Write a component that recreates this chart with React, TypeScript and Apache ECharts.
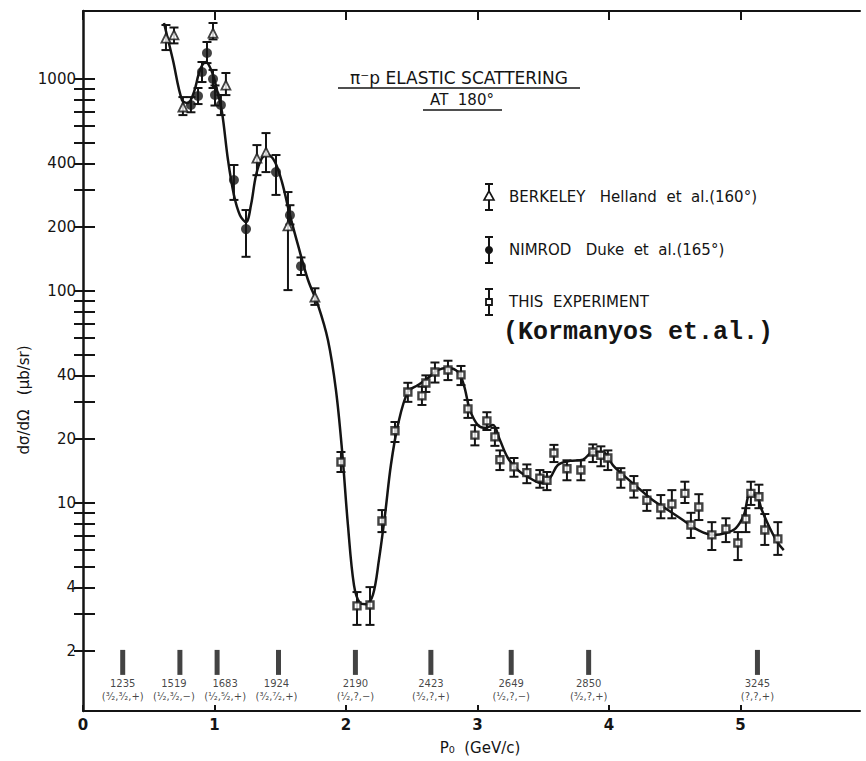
import { useEffect, useRef } from 'react';
import * as echarts from 'echarts';

// ---------- axis ticks ----------
const xTickValues = [0, 1, 2, 3, 4, 5];
const yLabelValues = [2, 4, 10, 20, 40, 100, 200, 400, 1000];
const yTickValues = [
  2, 3, 4, 5, 6, 7, 8, 9,
  10, 20, 30, 40, 50, 60, 70, 80, 90,
  100, 200, 300, 400, 500, 600, 700, 800, 900, 1000,
];

// ---------- fitted curve ----------
const curveP = [
  0.616, 0.684, 0.753, 0.798, 0.844, 0.89, 0.935, 0.981, 1.019, 1.057, 1.103, 1.148,
  1.194, 1.24, 1.278, 1.316, 1.361, 1.407, 1.46, 1.513, 1.574, 1.635, 1.711, 1.787,
  1.863, 1.924, 1.97, 2.015, 2.061, 2.106, 2.152, 2.205, 2.251, 2.297, 2.342, 2.395,
  2.471, 2.548, 2.624, 2.7, 2.776, 2.852, 2.897, 2.943, 3.004, 3.065, 3.118, 3.171,
  3.232, 3.308, 3.399, 3.49, 3.551, 3.612, 3.703, 3.802, 3.878, 3.954, 4.03, 4.106,
  4.221, 4.335, 4.449, 4.563, 4.677, 4.791, 4.89, 4.966, 5.027, 5.072, 5.118, 5.163,
  5.224, 5.285, 5.33,
];
const curveVal = [
  1837, 1230, 796, 771, 868, 1103, 1203, 1080, 888, 699, 415, 284,
  228, 211, 255, 352, 424, 438, 406, 327, 228, 165, 113, 86,
  58.7, 34.1, 17.8, 7.88, 4.1, 3.38, 3.33, 3.68, 5.39, 8.78, 15.1, 23.3,
  33.4, 36.0, 38.9, 42.4, 43.3, 41.5, 36.0, 27.5, 23.3, 22.6, 23.3, 19.8,
  16.3, 14.3, 13.1, 12.4, 13.1, 15.1, 15.8, 16.0, 17.4, 17.4, 15.1, 13.6,
  11.8, 10.3, 9.27, 8.31, 7.46, 7.07, 7.22, 7.62, 8.78, 10.9, 10.9, 9.27,
  7.62, 6.48, 6.0,
];

// ---------- data points: [P0, dσ/dΩ, lower, upper] ----------
const berkeley = [
  [0.631, 1561, 1370, 1798],
  [0.692, 1614, 1473, 1750],
  [0.76, 738, 676, 822],
  [0.989, 1648, 1538, 1838],
  [1.087, 937, 840, 1068],
  [1.323, 424, 352, 488],
  [1.392, 452, 364, 556],
  [1.559, 203, 101, 293],
  [1.764, 93.7, 86, 103],
];
const nimrod = [
  [0.821, 754, 697, 822],
  [0.875, 832, 762, 907],
  [0.905, 1079, 968, 1203],
  [0.943, 1327, 1189, 1495],
  [0.989, 1000, 907, 1104],
  [1.004, 841, 750, 933],
  [1.049, 754, 676, 841],
  [1.148, 334, 269, 393],
  [1.24, 196, 145, 241],
  [1.468, 364, 284, 438],
  [1.574, 228, 206, 254],
  [1.658, 131, 119, 144],
];
const thisExperiment = [
  [1.962, 15.6, 14.0, 17.4],
  [2.084, 3.27, 2.66, 3.8],
  [2.183, 3.3, 2.66, 4.01],
  [2.274, 8.22, 7.29, 9.26],
  [2.373, 21.9, 19.4, 24.1],
  [2.471, 33.4, 30.0, 36.9],
  [2.578, 32.0, 29.0, 35.4],
  [2.608, 36.8, 33.4, 40.0],
  [2.677, 41.5, 37.0, 46.0],
  [2.776, 42.4, 38.0, 46.9],
  [2.875, 40.2, 36.0, 44.3],
  [2.928, 27.8, 25.2, 30.6],
  [2.981, 20.9, 18.7, 23.3],
  [3.072, 24.4, 22.1, 26.8],
  [3.133, 20.5, 18.6, 22.6],
  [3.171, 16.0, 14.3, 17.7],
  [3.278, 14.8, 13.3, 16.3],
  [3.376, 13.9, 12.4, 15.2],
  [3.475, 13.1, 11.8, 14.3],
  [3.529, 12.8, 11.5, 14.0],
  [3.582, 17.2, 15.6, 18.8],
  [3.681, 14.5, 12.8, 15.9],
  [3.787, 14.3, 12.8, 15.9],
  [3.878, 17.4, 15.6, 18.9],
  [3.939, 16.8, 14.9, 18.5],
  [3.992, 16.3, 14.3, 17.7],
  [4.091, 13.4, 11.8, 14.6],
  [4.19, 11.9, 10.6, 13.4],
  [4.289, 10.3, 9.18, 11.5],
  [4.395, 9.47, 8.47, 10.9],
  [4.479, 9.89, 8.47, 11.5],
  [4.578, 11.1, 10.0, 12.6],
  [4.624, 7.87, 6.84, 8.99],
  [4.684, 9.57, 8.31, 11.0],
  [4.783, 7.07, 6.0, 8.12],
  [4.89, 7.54, 6.54, 8.47],
  [4.981, 6.48, 5.38, 7.29],
  [5.042, 8.4, 7.29, 9.45],
  [5.08, 11.1, 9.79, 12.6],
  [5.141, 10.7, 9.45, 12.2],
  [5.186, 7.46, 6.34, 8.87],
  [5.285, 6.77, 5.69, 8.12],
];

// ---------- resonances ----------
const resonanceMass = ['1235', '1519', '1683', '1924', '2190', '2423', '2649', '2850', '3245'];
const resonanceP = [0.302, 0.737, 1.02, 1.487, 2.072, 2.646, 3.257, 3.846, 5.13];
const resonanceJP = [
  '(³⁄₂,³⁄₂,+)', '(¹⁄₂,³⁄₂,−)', '(¹⁄₂,⁵⁄₂,+)', '(³⁄₂,⁷⁄₂,+)',
  '(¹⁄₂,?,−)', '(³⁄₂,?,+)', '(¹⁄₂,?,−)', '(³⁄₂,?,+)', '(?,?,+)',
];

const INK = '#141414';
const FONT = 'DejaVu Sans';

function errorBarSeries(data: number[][]) {
  return {
    type: 'custom',
    data,
    encode: { x: 0, y: 1 },
    z: 3,
    silent: true,
    renderItem: (_params: any, api: any) => {
      const x = api.value(0);
      const lo = api.coord([x, api.value(2)]);
      const hi = api.coord([x, api.value(3)]);
      const w = 4.5;
      const st = { stroke: INK, lineWidth: 2 };
      return {
        type: 'group',
        children: [
          { type: 'line', shape: { x1: hi[0], y1: hi[1], x2: lo[0], y2: lo[1] }, style: st },
          { type: 'line', shape: { x1: hi[0] - w, y1: hi[1], x2: hi[0] + w, y2: hi[1] }, style: st },
          { type: 'line', shape: { x1: lo[0] - w, y1: lo[1], x2: lo[0] + w, y2: lo[1] }, style: st },
        ],
      };
    },
  };
}

function legendEntry(y: number, marker: any, text: string) {
  const st = { stroke: INK, lineWidth: 2 };
  return [
    { type: 'line', shape: { x1: 489, y1: y - 13, x2: 489, y2: y + 13 }, style: st },
    { type: 'line', shape: { x1: 485, y1: y - 13, x2: 493, y2: y - 13 }, style: st },
    { type: 'line', shape: { x1: 485, y1: y + 13, x2: 493, y2: y + 13 }, style: st },
    marker,
    {
      type: 'text',
      x: 509,
      y,
      style: { text, fill: INK, font: `15px "${FONT}"`, textVerticalAlign: 'middle' },
    },
  ];
}

export default function App() {
  const ref = useRef<HTMLDivElement>(null);

  useEffect(() => {
    document.body.style.margin = '0';
    const chart = echarts.init(ref.current!, null, { renderer: 'svg' });

    // horizontal nudges so the crowded quantum-number labels sit side by side
    const labelNudge = [0, -6, 8, -2, 0, 0, 0, 0, 0];

    const yBase = {
      type: 'log',
      logBase: 10,
      min: 1.044,
      max: 2094,
      splitLine: { show: false },
      minorTick: { show: false },
    };

    const option: any = {
      animation: false,
      backgroundColor: '#ffffff',
      grid: { left: 83, right: 6, top: 11, bottom: 50 },
      xAxis: [
        {
          type: 'value',
          min: 0,
          max: 5.91,
          interval: 1,
          position: 'bottom',
          splitLine: { show: false },
          axisLine: { lineStyle: { color: INK, width: 2 } },
          axisTick: { inside: true, length: 6, lineStyle: { color: INK, width: 2 }, customValues: xTickValues },
          axisLabel: {
            customValues: xTickValues,
            color: INK,
            fontSize: 15,
            fontWeight: 'bold',
            fontFamily: FONT,
            margin: 6,
          },
        },
        {
          type: 'value',
          min: 0,
          max: 5.91,
          interval: 1,
          position: 'top',
          splitLine: { show: false },
          axisLine: { lineStyle: { color: INK, width: 2 } },
          axisTick: { inside: true, length: 9, lineStyle: { color: INK, width: 2 }, customValues: xTickValues },
          axisLabel: { show: false },
        },
      ],
      yAxis: [
        {
          ...yBase,
          position: 'left',
          axisLine: { show: true, lineStyle: { color: INK, width: 2.5 } },
          axisTick: { inside: true, length: 12, lineStyle: { color: INK, width: 2 }, customValues: yTickValues },
          axisLabel: {
            customValues: yLabelValues,
            formatter: (v: number) => String(Math.round(v)),
            color: INK,
            fontSize: 15,
            fontFamily: FONT,
            margin: 7,
          },
        },
        {
          ...yBase,
          position: 'right',
          axisLine: { show: false },
          axisTick: { inside: true, length: 9, lineStyle: { color: INK, width: 2 }, customValues: yTickValues },
          axisLabel: { show: false },
        },
      ],
      series: [
        {
          type: 'line',
          data: curveP.map((p, i) => [p, curveVal[i]]),
          smooth: 0.35,
          showSymbol: false,
          lineStyle: { color: INK, width: 2.5 },
          z: 2,
          silent: true,
        },
        errorBarSeries(berkeley),
        errorBarSeries(nimrod),
        errorBarSeries(thisExperiment),
        {
          type: 'scatter',
          data: berkeley.map((d) => [d[0], d[1]]),
          symbol: 'triangle',
          symbolSize: 9,
          itemStyle: { color: '#fff', borderColor: INK, borderWidth: 1.8 },
          z: 4,
          silent: true,
        },
        {
          type: 'scatter',
          data: nimrod.map((d) => [d[0], d[1]]),
          symbol: 'circle',
          symbolSize: 10,
          itemStyle: { color: INK },
          z: 4,
          silent: true,
        },
        {
          type: 'scatter',
          data: thisExperiment.map((d) => [d[0], d[1]]),
          symbol: 'rect',
          symbolSize: 7,
          itemStyle: { color: '#fff', borderColor: INK, borderWidth: 2.4 },
          z: 4,
          silent: true,
        },
        {
          type: 'scatter',
          data: resonanceP.map((p, i) => ({
            value: [p, 1.77],
            label: { offset: [labelNudge[i], 0] },
          })),
          symbol: 'rect',
          symbolSize: [5, 25],
          itemStyle: { color: INK },
          z: 4,
          silent: true,
          label: {
            show: true,
            position: 'bottom',
            distance: 2,
            formatter: (p: any) =>
              `{m|${resonanceMass[p.dataIndex]}}\n{q|${resonanceJP[p.dataIndex]}}`,
            rich: {
              m: { fontSize: 10, lineHeight: 13, color: INK, fontFamily: FONT },
              q: { fontSize: 10, lineHeight: 14, color: INK, fontFamily: FONT },
            },
          },
        },
      ],
      graphic: [
        // title
        {
          type: 'text',
          x: 459,
          y: 78,
          style: {
            text: 'π⁻p ELASTIC SCATTERING',
            fill: INK,
            font: `17px "${FONT}"`,
            textAlign: 'center',
            textVerticalAlign: 'middle',
          },
        },
        { type: 'line', shape: { x1: 338, y1: 88, x2: 580, y2: 88 }, style: { stroke: INK, lineWidth: 1.6 } },
        {
          type: 'text',
          x: 462,
          y: 100,
          style: {
            text: 'AT  180°',
            fill: INK,
            font: `15px "${FONT}"`,
            textAlign: 'center',
            textVerticalAlign: 'middle',
          },
        },
        { type: 'line', shape: { x1: 423, y1: 110, x2: 502, y2: 110 }, style: { stroke: INK, lineWidth: 1.6 } },
        // legend
        ...legendEntry(
          197,
          { type: 'polygon', shape: { points: [[489, 191], [484, 200], [494, 200]] }, style: { fill: '#fff', stroke: INK, lineWidth: 1.6 } },
          'BERKELEY   Helland  et  al.(160°)'
        ),
        ...legendEntry(
          250,
          { type: 'circle', shape: { cx: 489, cy: 250, r: 4 }, style: { fill: INK } },
          'NIMROD   Duke  et  al.(165°)'
        ),
        ...legendEntry(
          302,
          { type: 'rect', shape: { x: 486, y: 299, width: 6, height: 6 }, style: { fill: '#fff', stroke: INK, lineWidth: 1.8 } },
          'THIS  EXPERIMENT'
        ),
        {
          type: 'text',
          x: 503,
          y: 332,
          style: {
            text: '(Kormanyos et.al.)',
            fill: INK,
            font: `bold 25px "Liberation Mono"`,
            textVerticalAlign: 'middle',
          },
        },
        // axis titles
        {
          type: 'text',
          x: 480,
          y: 748,
          style: {
            text: 'P₀  (GeV/c)',
            fill: INK,
            font: `15px "${FONT}"`,
            textAlign: 'center',
            textVerticalAlign: 'middle',
          },
        },
        {
          type: 'text',
          x: 24,
          y: 400,
          rotation: Math.PI / 2,
          style: {
            text: 'dσ/dΩ   (μb/sr)',
            fill: INK,
            font: `15px "${FONT}"`,
            textAlign: 'center',
            textVerticalAlign: 'middle',
          },
        },
      ],
    };

    chart.setOption(option);
    return () => chart.dispose();
  }, []);

  return <div ref={ref} style={{ width: 866, height: 761 }} />;
}
